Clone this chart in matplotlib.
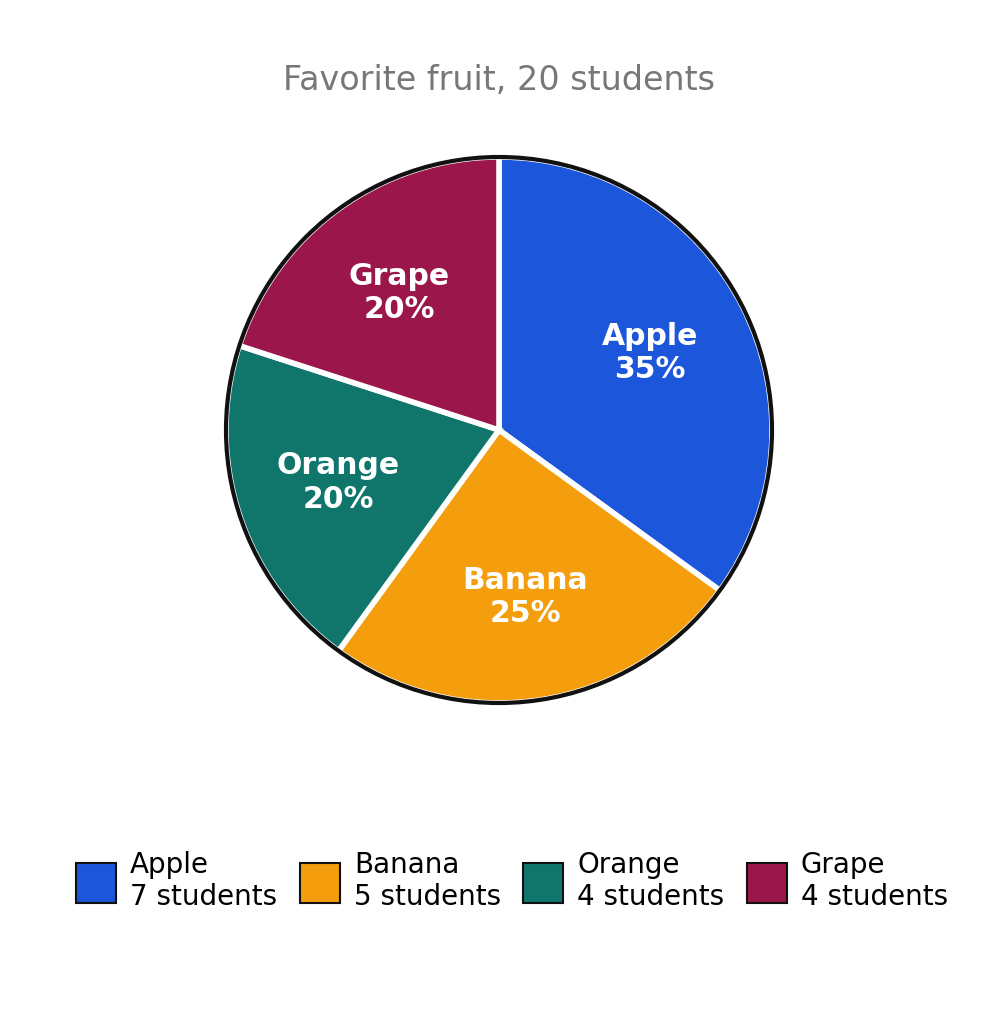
import numpy as np
import matplotlib.pyplot as plt
from matplotlib.patches import Circle

# Data
fruits = ["Apple", "Banana", "Orange", "Grape"]
students = [7, 5, 4, 4]
colors = ["#1c56db", "#f49e0d", "#10766c", "#9b164a"]

total = sum(students)

fig = plt.figure(figsize=(9.98, 10.25), dpi=100)

# pie centred at (499, 430) px, radius ~273 px
R = 273
half = 1.1 * R
ax = fig.add_axes([(499 - half) / 998, (1025 - 430 - half) / 1025,
                   2 * half / 998, 2 * half / 1025])

wedges, _ = ax.pie(students, colors=colors, startangle=90, counterclock=False,
                   wedgeprops=dict(edgecolor="white", linewidth=4))
ax.add_patch(Circle((0, 0), 1.0, fill=False, edgecolor="#111111", linewidth=3))
ax.set_xlim(-1.1, 1.1)
ax.set_ylim(-1.1, 1.1)
ax.set_aspect("equal")
ax.axis("off")

# labels inside the slices
for w, name, n in zip(wedges, fruits, students):
    mid = np.deg2rad((w.theta1 + w.theta2) / 2)
    x, y = 0.62 * np.cos(mid), 0.62 * np.sin(mid)
    ax.text(x, y, f"{name}\n{100 * n / total:.0f}%", ha="center", va="center",
            color="white", fontsize=21.5, fontweight="bold", linespacing=1.2)

fig.text(0.5, 1 - 80 / 1025, "Favorite fruit, 20 students", ha="center",
         va="center", fontsize=24, color="#777777")

leg_labels = [f"{f}\n{n} students" for f, n in zip(fruits, students)]
handles = [plt.Rectangle((0, 0), 1, 1, facecolor=c, edgecolor="#111111", linewidth=1.5)
           for c in colors]
fig.legend(handles, leg_labels, loc="center", bbox_to_anchor=(512 / 998, 1 - 881 / 1025),
           ncol=4, frameon=False, fontsize=20, handlelength=1.45, handleheight=1.84,
           columnspacing=0.8, handletextpad=0.5, labelspacing=0.2)

fig.savefig("out.png", dpi=100)
